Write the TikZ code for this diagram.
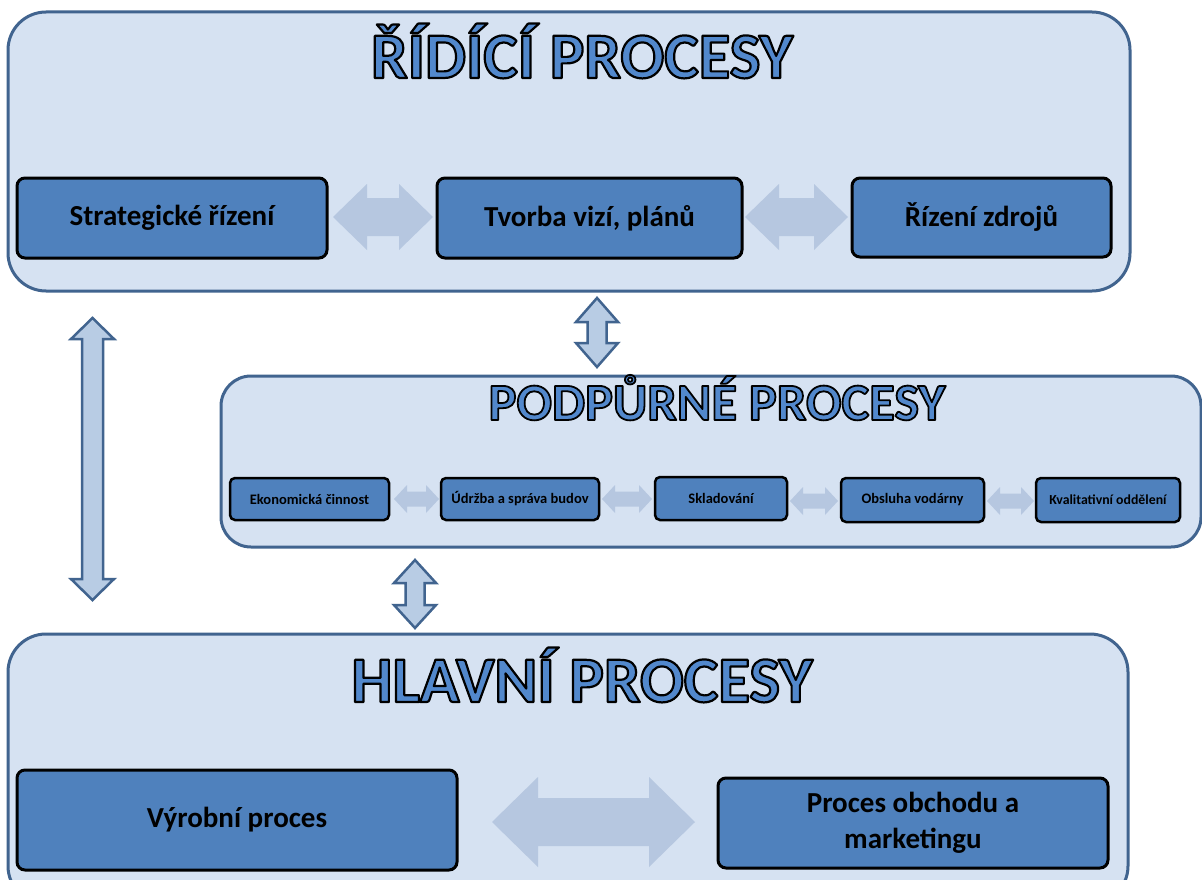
\documentclass[tikz,border=0pt]{standalone}
\usepackage{fontspec}
\setmainfont{Carlito}
\definecolor{panelfill}{HTML}{D6E2F2}
\definecolor{panelline}{HTML}{41648F}
\definecolor{boxfill}{HTML}{4F81BD}
\definecolor{arrowfill}{HTML}{B6C7E0}
\definecolor{varrowfill}{HTML}{B8CCE4}
\definecolor{titlefill}{HTML}{5288CC}
\newcommand\outlinedtext[2][2.2]{\special{pdf:literal direct 2 Tr 0 0 0 RG #1 w 1 j}#2\special{pdf:literal direct 0 Tr}}
% horizontal double arrow: x1 x2 y shafthalf headhalf headlen style
\newcommand\hdarrow[7]{\path[#7] (#1,#3) -- (#1+#6,#3-#5) -- (#1+#6,#3-#4) -- (#2-#6,#3-#4) -- (#2-#6,#3-#5) -- (#2,#3) -- (#2-#6,#3+#5) -- (#2-#6,#3+#4) -- (#1+#6,#3+#4) -- (#1+#6,#3+#5) -- cycle;}
% vertical double arrow: y1 y2 x shafthalf headhalf headlen style
\newcommand\vdarrow[7]{\path[#7] (#3,#1) -- (#3+#5,#1+#6) -- (#3+#4,#1+#6) -- (#3+#4,#2-#6) -- (#3+#5,#2-#6) -- (#3,#2) -- (#3-#5,#2-#6) -- (#3-#4,#2-#6) -- (#3-#4,#1+#6) -- (#3-#5,#1+#6) -- cycle;}
\tikzset{
  panel/.style={draw=panelline, line width=3pt, fill=panelfill, rounded corners=#1},
  procbox/.style={draw=black, line width=3pt, fill=boxfill, rounded corners=8pt, font=\bfseries\fontsize{29}{33}\selectfont, text=black, align=center, inner sep=0pt},
  smallbox/.style={draw=black, line width=2.5pt, fill=boxfill, rounded corners=5pt, font=\bfseries\fontsize{14.5}{17}\selectfont, text=black, inner sep=0pt},
  bigtitle/.style={anchor=base, inner sep=0pt, text=titlefill, font=\bfseries\fontsize{#1}{#1}\selectfont},
  flatarrow/.style={fill=arrowfill},
  linedarrow/.style={fill=varrowfill, draw=panelline, line width=2.5pt, line join=miter},
}
\begin{document}
\begin{tikzpicture}[x=1pt,y=-1pt]
\useasboundingbox (0,0) rectangle (1202,880);
\clip (0,0) rectangle (1202,880);
\fill[white] (0,0) rectangle (1202,880);

% panels
\node[panel=38pt, minimum width=1122pt, minimum height=279pt, inner sep=0pt] (ridici) at (569,151.5) {};
\node[panel=30pt, minimum width=980pt, minimum height=171pt, inner sep=0pt] (podpurne) at (711,461.5) {};
\node[panel=38pt, minimum width=1120pt, minimum height=270pt, inner sep=0pt] (hlavni) at (568,769) {};

% titles
\node[bigtitle=65] (t1) at (582,78) {\outlinedtext{ŘÍDÍCÍ PROCESY}};
\node[bigtitle=52.5] (t2) at (717,420) {\outlinedtext[1.8]{PODPŮRNÉ PROCESY}};
\node[bigtitle=65] (t3) at (582,702) {\outlinedtext{HLAVNÍ PROCESY}};

% top boxes
\node[procbox, minimum width=310pt, minimum height=80pt] (strat) at (172,218) {\raisebox{-2pt}{Strategické řízení}};
\node[procbox, minimum width=305pt, minimum height=80pt] (tvorba) at (589.5,218) {\raisebox{-2pt}{Tvorba vizí, plánů}};
\node[procbox, minimum width=259pt, minimum height=79pt] (zdroje) at (981.5,217.5) {\raisebox{-2pt}{Řízení zdrojů}};

% support boxes
\node[smallbox, minimum width=159pt, minimum height=42pt] (ekon) at (309.5,499) {Ekonomická činnost};
\node[smallbox, minimum width=158pt, minimum height=42pt] (udrz) at (520,499) {Údržba a správa budov};
\node[smallbox, minimum width=132pt, minimum height=43pt] (sklad) at (721,498.5) {Skladování};
\node[smallbox, minimum width=143pt, minimum height=44pt] (obsl) at (912.5,500) {Obsluha vodárny};
\node[smallbox, minimum width=144pt, minimum height=44pt] (kval) at (1108,500) {\fontsize{13.8}{16}\selectfont Kvalitativní oddělení};

% main boxes
\node[procbox, minimum width=440pt, minimum height=100pt] (vyrob) at (237,820) {Výrobní proces};
\node[procbox, minimum width=390pt, minimum height=90pt] (obchod) at (913,823) {Proces obchodu a\\[3pt]marketingu};

% horizontal flat arrows
\hdarrow{333}{433}{217}{19}{33}{34}{flatarrow}
\hdarrow{745}{848}{217}{19}{33}{34}{flatarrow}
\hdarrow{394}{439}{499}{7.5}{14}{13}{flatarrow}
\hdarrow{602}{652}{499}{7.5}{14}{13}{flatarrow}
\hdarrow{790}{838}{501}{7.5}{14}{13}{flatarrow}
\hdarrow{987}{1034}{501}{7.5}{14}{13}{flatarrow}
\hdarrow{492}{695}{822}{24}{45}{46}{flatarrow}

% vertical outlined arrows
\vdarrow{298}{367}{597}{9.5}{21}{24}{linedarrow}
\vdarrow{560}{628}{415}{9.5}{21}{23}{linedarrow}
\vdarrow{318}{600}{92.5}{10.5}{21.5}{21}{linedarrow}
\end{tikzpicture}
\end{document}
